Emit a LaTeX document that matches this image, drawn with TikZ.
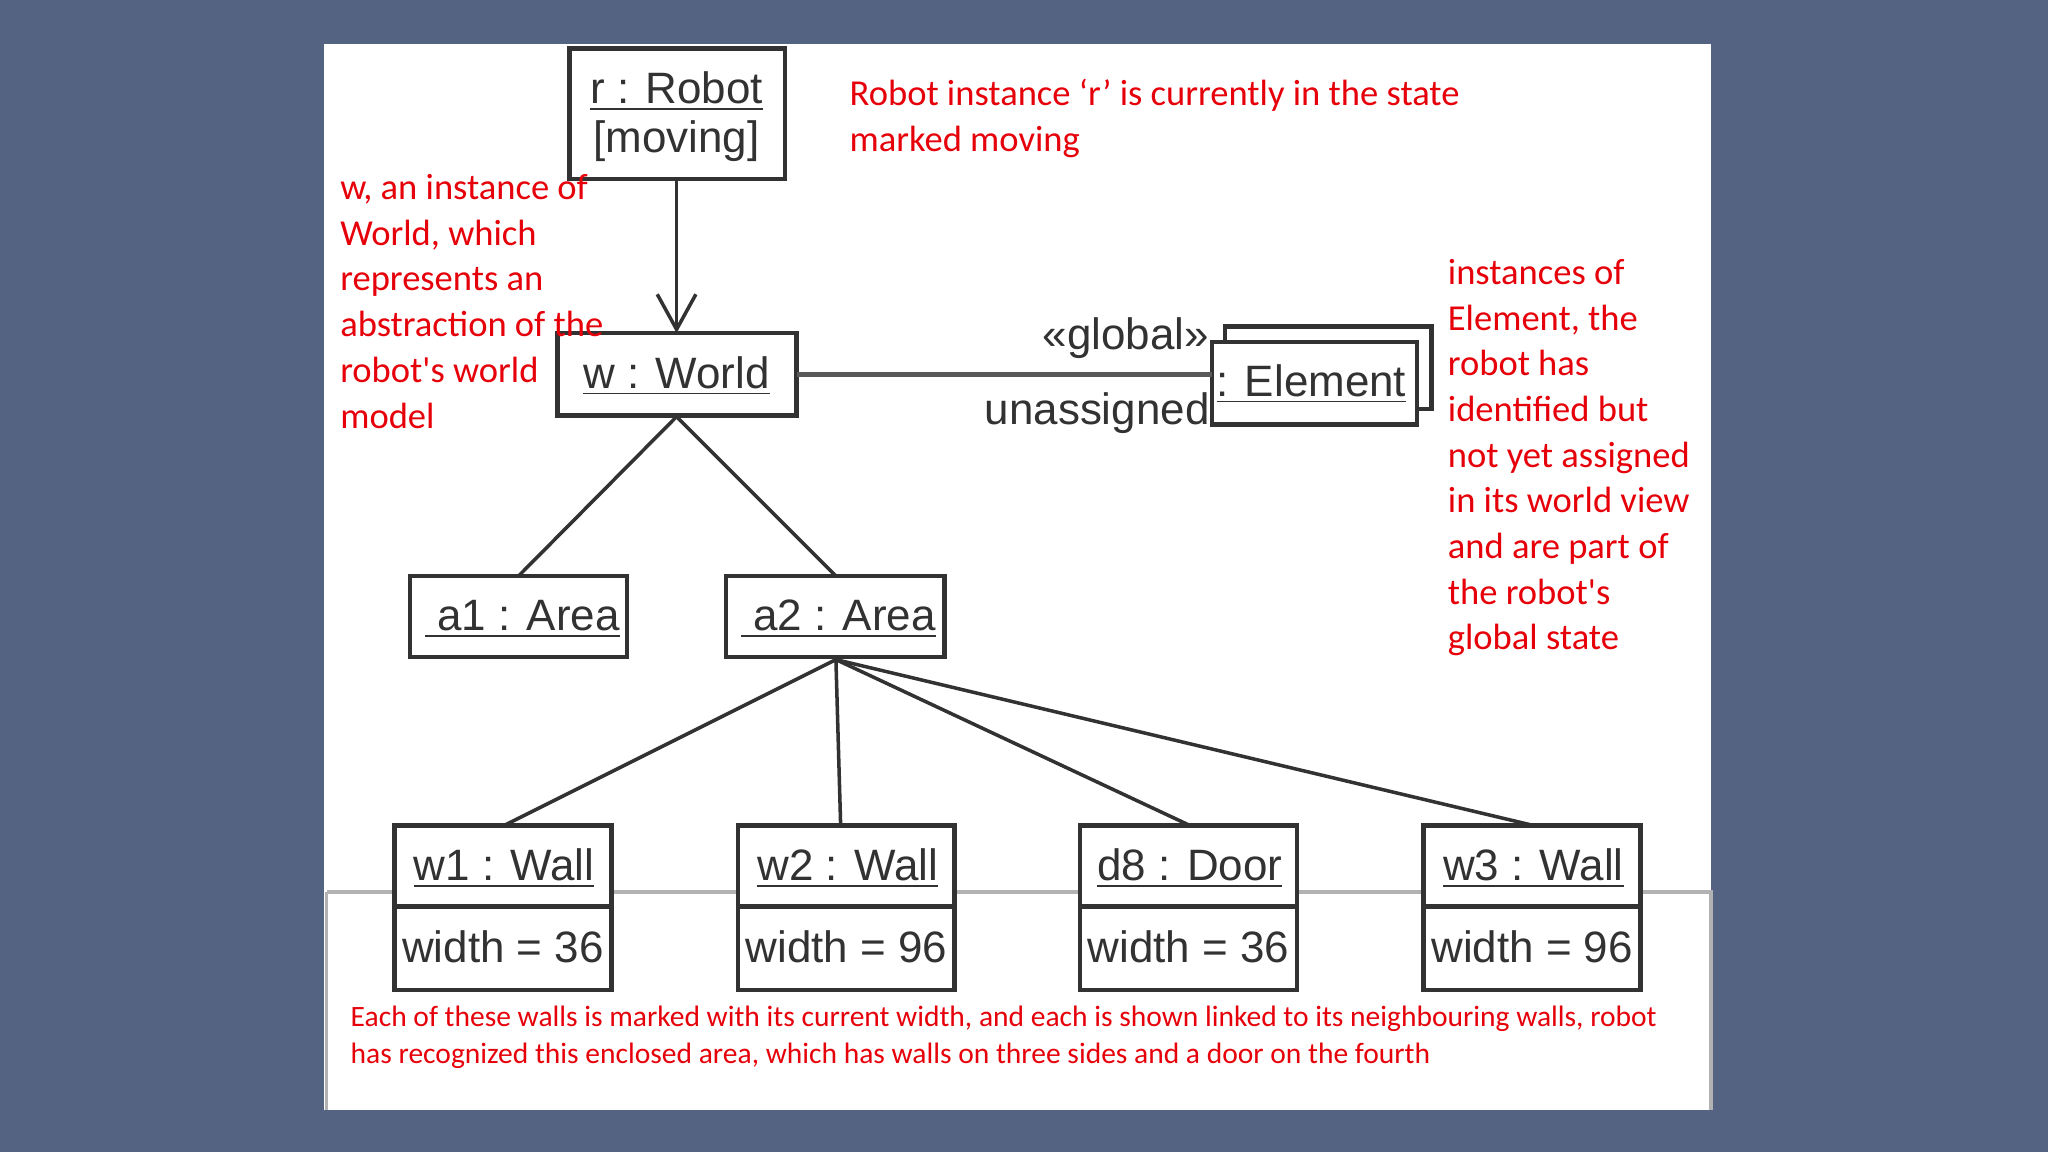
\documentclass[tikz,border=0pt]{standalone}
\usepackage{fontspec}
\setmainfont{Liberation Sans}
\newfontfamily\notefont{Carlito}
\usetikzlibrary{arrows.meta,positioning}
\definecolor{slide}{RGB}{83,99,129}
\definecolor{note}{RGB}{230,0,10}
\definecolor{ink}{RGB}{50,50,50}

\begin{document}
\begin{tikzpicture}[x=0.013061cm,y=-0.013061cm,
  obj/.style={draw=ink,line width=1.3pt,fill=white},
  lbl/.style={font=\fontsize{12.5}{15}\selectfont\color{ink}},
  link/.style={draw=ink,line width=1pt},
  remark/.style={anchor=north west,align=left,inner sep=0pt,text=note,font=\notefont\fontsize{10.4}{13}\selectfont}]
\fill[slide] (0,0) rectangle (1568,882);
\useasboundingbox (0,0) rectangle (1568,882);
\fill[white] (248,34) rectangle (1310,850);
\draw[gray!60,line width=1pt] (250,683) -- (1310,683) -- (1310,850) (250,683) -- (250,850);

% objects
\draw[obj] (436,37) rectangle (601,137);
\node[lbl] (robotname) at (518,70) {\underline{r : Robot}};
\node[lbl] (robotstate) at (518,108) {[moving]};
\coordinate (rbot) at (518,137);

\draw[obj] (427,255) rectangle (610,318);
\node[lbl] (world) at (518,288) {\underline{w : World}};
\coordinate (wtop) at (518,255);
\coordinate (wbot) at (518,319);
\coordinate (wright) at (610,287);

\draw[obj] (938,250) rectangle (1096,313);
\draw[obj] (928,262) rectangle (1085,325);
\node[lbl] (element) at (1004,294) {\underline{: Element}};
\coordinate (eleft) at (928,287);

\draw[obj] (314,441) rectangle (480,503);
\node[lbl] (a1) at (400,474) {\underline{\ a1 : Area}};
\draw[obj] (556,441) rectangle (723,503);
\node[lbl] (a2) at (642,474) {\underline{\ a2 : Area}};
\coordinate (a1top) at (397,441);
\coordinate (a2top) at (640,441);
\coordinate (a2bot) at (640,505);

\foreach \name/\kind/\wid/\x in {w1/Wall/36/302,w2/Wall/96/565,d8/Door/36/827,w3/Wall/96/1090}{
  \draw[obj] (\x,632) rectangle ++(166,126);
  \draw[obj] (\x,694) -- ++(166,0);
  \node[lbl] (\name) at (\x+84,665) {\underline{\name\ : \kind}};
  \node[lbl] (\name w) at (\x+83,725) {width = \wid};
  \coordinate (\name top) at (\x+84,632);
}

% connectors
\draw[link,-{Straight Barb[length=10pt,width=11pt]}] (rbot) -- (wtop);
\draw[link,line width=1.5pt,draw=gray!70!black] (wright) -- (eleft);
\draw[link] (wbot) -- (a1top);
\draw[link] (wbot) -- (a2top);
\draw[link] (a2bot) -- (w1top);
\draw[link] (a2bot) -- ([xshift=-2]w2top);
\draw[link] (a2bot) -- (d8top);
\draw[link] (a2bot) -- (w3top);
\node[lbl] (glob) at (862,259) {«global»};
\node[lbl] (unas) at (840,316) {unassigned};

% notes
\node[remark] (n1) at (650,60) {Robot instance ‘r’ is currently in the state\\marked moving};
\node[remark] (n2) at (260,133) {w, an instance of\\World, which\\represents an\\abstraction of the\\robot's world\\model};
\node[remark] (n3) at (1108,198) {instances of\\Element, the\\robot has\\identified but\\not yet assigned\\in its world view\\and are part of\\the robot's\\global state};
\node[remark,font=\notefont\fontsize{8.4}{10.4}\selectfont] (n4) at (268,770) {Each of these walls is marked with its current width, and each is shown linked to its neighbouring walls, robot\\has recognized this enclosed area, which has walls on three sides and a door on the fourth};
\end{tikzpicture}
\end{document}
